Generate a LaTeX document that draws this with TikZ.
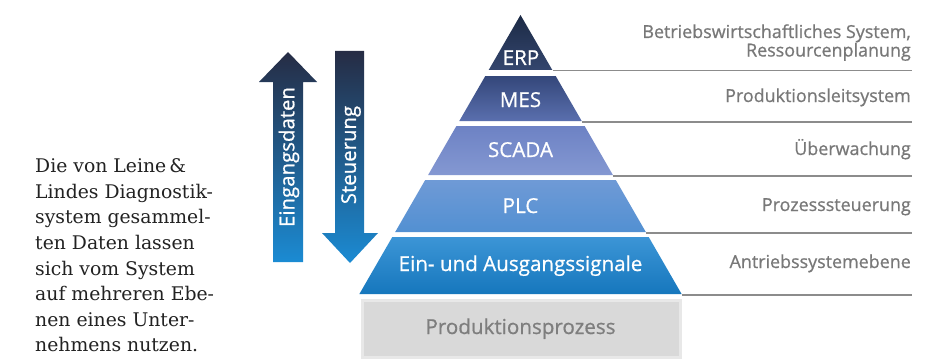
\documentclass[tikz,border=0pt]{standalone}
\usepackage{fontspec}
\setmainfont{Open Sans}
\newfontfamily\medsans[FakeBold=0.7]{Open Sans}
\newfontfamily\serifA{DejaVu Serif}
\definecolor{rgray}{HTML}{787878}
\definecolor{lgray}{HTML}{8C8C8C}
\definecolor{pgray}{HTML}{7E7E7E}
\definecolor{prodfill}{HTML}{D9D9D9}
\definecolor{prodedge}{HTML}{E8E8E8}
\definecolor{erpT}{HTML}{1C2A45}
\definecolor{erpB}{HTML}{34466E}
\definecolor{mesT}{HTML}{34477A}
\definecolor{mesB}{HTML}{5A6FAE}
\definecolor{scaT}{HTML}{6D82C4}
\definecolor{scaB}{HTML}{8498D2}
\definecolor{plcT}{HTML}{6F9AD6}
\definecolor{plcB}{HTML}{5290D2}
\definecolor{einT}{HTML}{3C95D6}
\definecolor{einB}{HTML}{1677BD}
\definecolor{arrT}{HTML}{262C44}
\definecolor{arrM}{HTML}{8E94C4}
\definecolor{arrB}{HTML}{1B8BD3}
\definecolor{bodytext}{HTML}{222222}
\begin{document}
\begin{tikzpicture}[x=1pt,y=-1pt,
  lbl/.style={text=white,font=\medsans\fontsize{20.6}{24}\selectfont,inner sep=0pt,anchor=base},
  rlbl/.style={text=rgray,font=\medsans\fontsize{17.9}{18.5}\selectfont,inner sep=0pt,anchor=base east,align=right},
  sepline/.style={draw=lgray,line width=1.1pt},
  arrowshape/.style={top color=arrT,middle color=arrM,bottom color=arrB,draw=none},
  arrlbl/.style={text=white,font=\medsans\fontsize{20.4}{24}\selectfont,inner sep=0pt,rotate=90},
]
\useasboundingbox[fill=white] (0,0) rectangle (926,361);

% arrows
\path[arrowshape] (288,52) -- (317,82) -- (303,82) -- (303,262) -- (273,262) -- (273,82) -- (259,82) -- cycle;
\path[arrowshape] (335,51) -- (364,51) -- (364,233) -- (378,233) -- (350,263) -- (322,233) -- (335,233) -- cycle;
\node[arrlbl] (eing) at (289,157) {Eingangsdaten};
\node[arrlbl] (steu) at (351,155) {Steuerung};

% pyramid layers
\path[top color=erpT,bottom color=erpB] (520.5,15) -- (552.3,70) -- (488.7,70) -- cycle;
\path[top color=mesT,bottom color=mesB] (485.3,76) -- (555.7,76) -- (581.7,121) -- (459.3,121) -- cycle;
\path[top color=scaT,bottom color=scaB] (456.4,126) -- (584.6,126) -- (612.9,175) -- (428.1,175) -- cycle;
\path[top color=plcT,bottom color=plcB] (425.2,180) -- (615.8,180) -- (645.8,232) -- (395.2,232) -- cycle;
\path[top color=einT,bottom color=einB] (392.3,237) -- (648.7,237) -- (681.6,294) -- (359.4,294) -- cycle;

% production process
\path[fill=prodfill,draw=prodedge,line width=3pt] (362,300) rectangle (680,357);

% separator lines
\coordinate (erpR) at (552.8,70.5);
\coordinate (erpE) at (912,70.5);
\coordinate (mesR) at (582.2,122);
\coordinate (mesE) at (912,122);
\coordinate (scaR) at (613.4,176);
\coordinate (scaE) at (912,176);
\coordinate (plcR) at (646.3,233);
\coordinate (plcE) at (912,233);
\coordinate (einR) at (682.1,295);
\coordinate (einE) at (912,295);
\draw[sepline] (erpR) -- (erpE);
\draw[sepline] (mesR) -- (mesE);
\draw[sepline] (scaR) -- (scaE);
\draw[sepline] (plcR) -- (plcE);
\draw[sepline] (einR) -- (einE);

% pyramid labels
\node[lbl] (erp) at (521,65) {ERP};
\node[lbl] (mes) at (520.5,107) {MES};
\node[lbl] (scada) at (520.5,157) {SCADA};
\node[lbl] (plc) at (520.5,213) {PLC};
\node[lbl] (ein) at (520.5,271) {Ein- und Ausgangssignale};
\node[lbl,text=pgray] (prod) at (520.5,334) {Produktionsprozess};

% right labels
\node[rlbl] (r1a) at (911,38) {Betriebswirtschaftliches System,};
\node[rlbl] (r1b) at (911,56.5) {Ressourcenplanung};
\node[rlbl] (r2) at (911,102) {Produktionsleitsystem};
\node[rlbl] (r3) at (911,155) {Überwachung};
\node[rlbl] (r4) at (911,211) {Prozesssteuerung};
\node[rlbl] (r5) at (911,268) {Antriebssystemebene};

% left text
\node[anchor=north west,inner sep=0pt,align=left,text=bodytext,
      font=\serifA\fontsize{18.8}{25.6}\selectfont] (body) at (35,158.5)
  {Die von Leine\,\&\\Lindes Diagnostik-\\system gesammel-\\ten Daten lassen\\sich vom System\\auf mehreren Ebe-\\nen eines Unter-\\nehmens nutzen.};
\end{tikzpicture}
\end{document}
